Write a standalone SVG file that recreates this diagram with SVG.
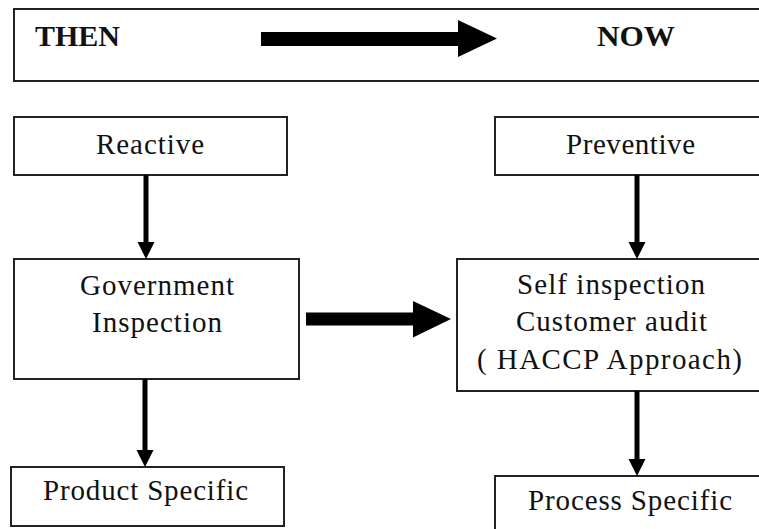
<svg xmlns="http://www.w3.org/2000/svg" width="759" height="529" viewBox="0 0 759 529">
<style>
.box{fill:#fff;stroke:#222;stroke-width:2}
.t{font-family:"Liberation Serif","Times New Roman",serif;font-size:29px;fill:#111}
.h{font-family:"Liberation Serif","Times New Roman",serif;font-size:29px;font-weight:bold;fill:#111}
.c{stroke:#000;stroke-width:5;fill:none}
.big{fill:#000}
</style>
<defs>
<marker id="ah" markerUnits="userSpaceOnUse" markerWidth="18" markerHeight="18" refX="8" refY="8.5" orient="auto" viewBox="0 0 18 18">
<path d="M0,0 L17,8.5 L0,17 Z" fill="#000"/>
</marker>
</defs>
<rect width="759" height="529" fill="#fff"/>
<g id="header">
<rect class="box" x="14" y="9" width="750" height="72"/>
<text class="h" x="35" y="46" textLength="85" lengthAdjust="spacingAndGlyphs">THEN</text>
<text class="h" x="597" y="46" textLength="78" lengthAdjust="spacingAndGlyphs">NOW</text>
<polygon class="big" points="261,32 458,32 458,20 497,38.5 458,57 458,46 261,46"/>
</g>
<g id="reactive">
<rect class="box" x="14" y="117" width="273" height="58"/>
<text class="t" x="96" y="154" textLength="108" lengthAdjust="spacing">Reactive</text>
</g>
<g id="government">
<rect class="box" x="14" y="259" width="285" height="120"/>
<text class="t" x="80" y="295" textLength="154" lengthAdjust="spacing">Government</text>
<text class="t" x="92" y="332" textLength="130" lengthAdjust="spacing">Inspection</text>
</g>
<g id="product">
<rect class="box" x="11" y="467" width="273" height="59"/>
<text class="t" x="43" y="500" textLength="205" lengthAdjust="spacing">Product Specific</text>
</g>
<g id="preventive">
<rect class="box" x="495" y="117" width="270" height="58"/>
<text class="t" x="566" y="154" textLength="129" lengthAdjust="spacing">Preventive</text>
</g>
<g id="self">
<rect class="box" x="457" y="259" width="308" height="132"/>
<text class="t" x="517" y="294" textLength="188" lengthAdjust="spacing">Self inspection</text>
<text class="t" x="516" y="331" textLength="191" lengthAdjust="spacing">Customer audit</text>
<text class="t" x="477" y="369" textLength="265" lengthAdjust="spacing">( HACCP Approach)</text>
</g>
<g id="process">
<rect class="box" x="495" y="476" width="270" height="60"/>
<text class="t" x="528" y="510" textLength="204" lengthAdjust="spacing">Process Specific</text>
</g>
<g id="connectors">
<line class="c" x1="146" y1="175" x2="146" y2="250" marker-end="url(#ah)"/>
<line class="c" x1="145" y1="379" x2="145" y2="458" marker-end="url(#ah)"/>
<line class="c" x1="637" y1="175" x2="637" y2="250" marker-end="url(#ah)"/>
<line class="c" x1="637" y1="391" x2="637" y2="467" marker-end="url(#ah)"/>
<polygon class="big" points="306,312.5 413,312.5 413,301 451,319 413,337.5 413,325.5 306,325.5"/>
</g>
</svg>
